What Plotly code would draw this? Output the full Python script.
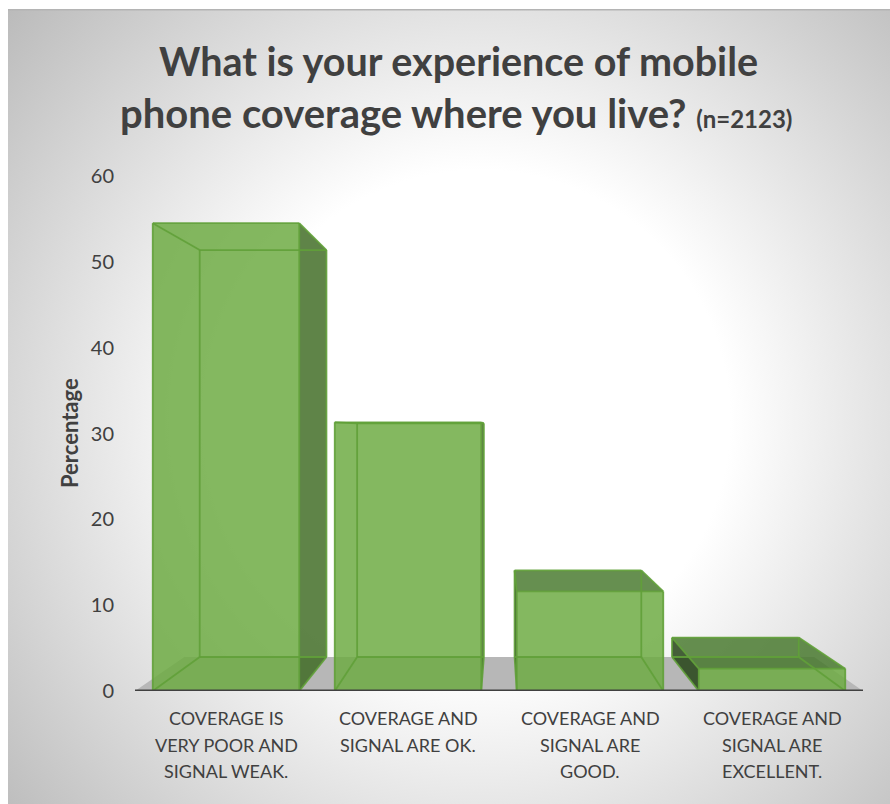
import base64
import plotly.graph_objects as go

# Survey results
category_lines = [
    ["COVERAGE IS", "VERY POOR AND", "SIGNAL WEAK."],
    ["COVERAGE AND", "SIGNAL ARE OK."],
    ["COVERAGE AND", "SIGNAL ARE", "GOOD."],
    ["COVERAGE AND", "SIGNAL ARE", "EXCELLENT."],
]
percentages = [54.5, 31.3, 11.6, 2.6]
y_ticks = [0, 10, 20, 30, 40, 50, 60]

# Plot rectangle in pixels
W, H = 890, 804
L, R, T, B = 135, 27, 176, 113
PW, PH = W - L - R, H - T - B

# Box projection in axis units: the rear plane is scaled towards a vanishing column
VANISH_X = 1.509
DEPTH_SCALE_X = 0.865
DEPTH_SCALE_Y = 0.87
FLOOR_RISE = 3.96
BAR_WIDTH = 0.805

TEXT = "#404040"
FONT = "Lato"
GREEN = "rgba(108,170,66,0.84)"
TOP_SHADE = "rgba(68,118,42,0.82)"
RIGHT_SHADE = "rgba(60,105,32,0.82)"
LEFT_SHADE = "rgba(38,68,24,0.85)"
EDGE = "rgba(96,160,56,0.9)"


def rear(x, y):
    """Project a point on the front plane onto the rear plane."""
    return VANISH_X + DEPTH_SCALE_X * (x - VANISH_X), FLOOR_RISE + DEPTH_SCALE_Y * y


def face(points, fill):
    xs, ys = zip(*points)
    return go.Scatter(
        x=list(xs) + [xs[0]], y=list(ys) + [ys[0]], mode="lines", fill="toself",
        fillcolor=fill, line=dict(width=0), hoverinfo="skip", showlegend=False,
        cliponaxis=False,
    )


fig = go.Figure()

# Floor plane
fig.add_trace(face([(-0.5, 0), (3.5, 0), rear(3.5, 0), rear(-0.5, 0)], "#B7B7B7"))

for i, v in enumerate(percentages):
    x0, x1 = i - BAR_WIDTH / 2, i + BAR_WIDTH / 2
    fbl, fbr, ftl, ftr = (x0, 0), (x1, 0), (x0, v), (x1, v)
    rbl, rbr, rtl, rtr = rear(x0, 0), rear(x1, 0), rear(x0, v), rear(x1, v)

    # Outer faces that show past the front rectangle
    if rtr[0] > x1:
        fig.add_trace(face([fbr, rbr, rtr, ftr], RIGHT_SHADE))
    if rtl[0] < x0:
        fig.add_trace(face([fbl, rbl, rtl, ftl], LEFT_SHADE))
    if rtl[1] > v:
        fig.add_trace(face([ftl, ftr, rtr, rtl], TOP_SHADE))

    # Front face
    fig.add_trace(face([fbl, fbr, ftr, ftl], GREEN))

    # Wireframe of all twelve edges
    segments = [
        (fbl, fbr), (fbr, ftr), (ftr, ftl), (ftl, fbl),
        (rbl, rbr), (rbr, rtr), (rtr, rtl), (rtl, rbl),
        (fbl, rbl), (fbr, rbr), (ftl, rtl), (ftr, rtr),
    ]
    ex, ey = [], []
    for a, b in segments:
        ex += [a[0], b[0], None]
        ey += [a[1], b[1], None]
    fig.add_trace(go.Scatter(
        x=ex, y=ey, mode="lines", line=dict(color=EDGE, width=1.8),
        hoverinfo="skip", showlegend=False, cliponaxis=False,
    ))

# Panel backdrop with a radial fade
backdrop = f"""<svg xmlns="http://www.w3.org/2000/svg" width="{W}" height="{H}">
<defs><radialGradient id="g" gradientUnits="userSpaceOnUse" cx="480" cy="420" r="625">
<stop offset="0.4" stop-color="#ffffff"/><stop offset="1" stop-color="#bbbbbb"/>
</radialGradient></defs>
<rect width="{W}" height="{H}" fill="#ffffff"/>
<rect x="8" y="9" width="{W - 8}" height="{H - 9}" fill="url(#g)"/>
<rect x="8" y="9" width="{W - 8}" height="1.5" fill="#b4b4b4"/>
</svg>"""
backdrop_uri = "data:image/svg+xml;base64," + base64.b64encode(backdrop.encode()).decode()


def px(x):
    return (x - L) / PW


def py(y):
    return (H - B - y) / PH


annotations = [
    dict(x=px(458), y=py(60), text="<b>What is your experience of mobile</b>",
         font=dict(size=39.5, color=TEXT, family=FONT)),
    dict(x=px(456), y=py(113),
         text='<b>phone coverage where you live? <span style="font-size:24px">(n=2123)</span></b>',
         font=dict(size=40, color=TEXT, family=FONT)),
    dict(x=px(69), y=py(433), text="<b>Percentage</b>", textangle=-90,
         font=dict(size=22, color=TEXT, family=FONT)),
]
LINE_STEP = 26.5
for i, lines in enumerate(category_lines):
    for j, line in enumerate(lines):
        annotations.append(dict(
            x=i, xref="x", y=py(718 + j * LINE_STEP), text=line,
            font=dict(size=18, color=TEXT, family=FONT),
        ))
for a in annotations:
    a.setdefault("xref", "paper")
    a.update(yref="paper", showarrow=False, xanchor="center", yanchor="middle")

fig.update_layout(
    width=W, height=H, margin=dict(l=L, r=R, t=T, b=B),
    paper_bgcolor="rgba(0,0,0,0)", plot_bgcolor="rgba(0,0,0,0)",
    showlegend=False, annotations=annotations,
    images=[dict(
        source=backdrop_uri, xref="paper", yref="paper", x=-L / PW, y=1 + T / PH,
        sizex=W / PW, sizey=H / PH, sizing="stretch", xanchor="left", yanchor="top",
        layer="below",
    )],
    xaxis=dict(
        range=[-0.5, 3.5], showgrid=False, zeroline=False, showticklabels=False,
        ticks="", showline=False, fixedrange=True,
    ),
    yaxis=dict(
        range=[0, 60], tickvals=y_ticks, showgrid=False, zeroline=False, showline=False,
        ticks="outside", ticklen=16, tickcolor="rgba(0,0,0,0)",
        tickfont=dict(size=20, color=TEXT, family=FONT), fixedrange=True,
    ),
)

# Baseline drawn over the bars' feet
fig.add_trace(go.Scatter(
    x=[-0.5, 3.5], y=[-0.05, -0.05], mode="lines", line=dict(color=TEXT, width=4),
    hoverinfo="skip", showlegend=False, cliponaxis=False,
))

fig.write_html("out.html", config=dict(displayModeBar=False))
